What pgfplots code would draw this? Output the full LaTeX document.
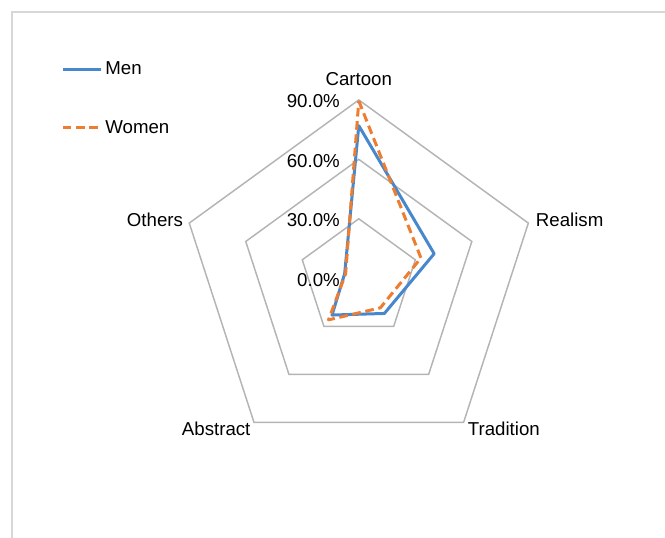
\documentclass[border=0pt]{standalone}
\usepackage{fontspec}
\setmainfont{Liberation Sans}
\usepackage{pgfplots}
\usepackage{pgfplotstable}
\pgfplotsset{compat=1.18}
\usepgfplotslibrary{polar}

\definecolor{menblue}{RGB}{70,135,205}
\definecolor{womenorange}{RGB}{237,125,49}
\definecolor{gridgray}{RGB}{180,180,180}
\definecolor{framegray}{RGB}{215,215,215}

\newcommand\lblfont{\fontsize{14pt}{16pt}\selectfont}

% share of each style preference, in percent
% angle: position of the category on the radar
\pgfplotstableread{
angle value
90    77
18    40
-54   22
-126  23
162   7.5
}\men
\pgfplotstableread{
angle value
90    89.5
18    33
-54   18.5
-126  26
162   7
}\women

\begin{document}
\begin{tikzpicture}
\useasboundingbox (0pt,0pt) rectangle (498.75pt,403.5pt);
% chart area frame
\draw[framegray, line width=1.5pt] (9pt,0pt) -- (9pt,394.5pt) -- (498.75pt,394.5pt);

\begin{polaraxis}[
  at={(269.1pt,194.85pt)}, anchor=origin,
  width=267.4pt, height=267.4pt, scale only axis,
  xmin=0, xmax=360, ymin=0, ymax=90,
  hide axis, clip=false,
  legend style={at={(-0.3343,1.1072)}, anchor=north west, draw=none, fill=none,
    font=\lblfont, row sep=33pt, inner sep=0pt, outer sep=0pt,
    nodes={inner sep=0pt, outer sep=0pt}, column sep=2pt},
  legend cell align=left,
  legend image code/.code={\draw[#1] (0pt,0pt) -- (28.8pt,0pt);},
]
% pentagon grid
\foreach \r in {30,60,90} {
  \edef\tmp{\noexpand\addplot[gridgray, line width=1.1pt, line join=miter, forget plot]
    coordinates {(90,\r) (18,\r) (-54,\r) (-126,\r) (162,\r)} -- cycle;}
  \tmp
}

\addplot[menblue, line width=2.25pt, line join=round] table[x=angle,y=value]{\men} -- cycle;
\addlegendentry{Men}
\addplot[womenorange, line width=2.25pt, line join=round, dash pattern=on 6.5pt off 3.5pt]
  table[x=angle,y=value]{\women} -- cycle;
\addlegendentry{Women}

% radial tick labels
\foreach \r/\t in {0/0.0,30/30.0,60/60.0,90/90.0} {
  \edef\tmp{\noexpand\node[font=\noexpand\lblfont, inner sep=0pt, anchor=base east,
    xshift=-14.1pt, yshift=-6pt] at (axis cs:90,\r) {\t\noexpand\%};}
  \tmp
}

% category labels
\node[font=\lblfont, inner sep=0pt, anchor=base, yshift=10.5pt] at (axis cs:90,90) {Cartoon};
\node[font=\lblfont, inner sep=0pt, anchor=base west, xshift=5.5pt, yshift=-2.5pt] at (axis cs:18,90) {Realism};
\node[font=\lblfont, inner sep=0pt, anchor=base west, xshift=3pt, yshift=-10pt] at (axis cs:-54,90) {Tradition};
\node[font=\lblfont, inner sep=0pt, anchor=base east, xshift=-2.5pt, yshift=-10pt] at (axis cs:-126,90) {Abstract};
\node[font=\lblfont, inner sep=0pt, anchor=base east, xshift=-4.5pt, yshift=-2.5pt] at (axis cs:162,90) {Others};
\end{polaraxis}
\end{tikzpicture}
\end{document}
